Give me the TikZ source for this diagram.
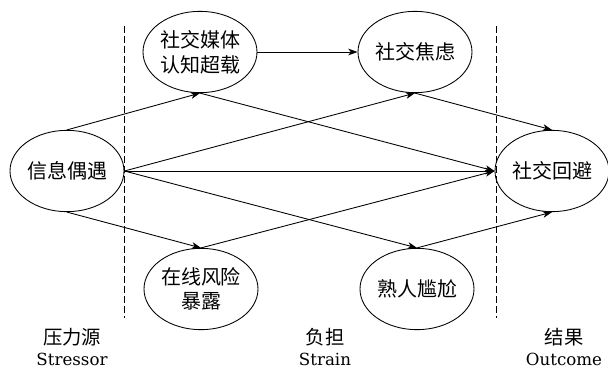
\documentclass[tikz,border=0pt]{standalone}
\usepackage{fontspec}
\setmainfont{DejaVu Serif}
\newfontfamily\cjk{Noto Sans CJK SC}
\usetikzlibrary{shapes.geometric,arrows.meta}
\begin{document}
\begin{tikzpicture}[>={Stealth[length=7pt,width=5pt,inset=2pt]}, x=0.75pt, y=-0.75pt, line width=0.65pt,
	fattore/.style={ellipse, draw, inner sep=0pt, minimum width=85.5pt, minimum height=61pt,
		align=center, font=\cjk\fontsize{15}{18.5}\selectfont},
	fase/.style={align=center, font=\fontsize{12.5}{16}\selectfont}]
	% Definizioni per le linee di separazione
	\def\ytop{26}
	\def\ybot{318}
	\useasboundingbox (0,0) rectangle (608,369);
	
	% --- Nodi ---
	\node[fattore] (incontro) at (67,171) {信息偶遇};
	\node[fattore] (sovraccarico) at (200,52) {社交媒体\\认知超载};
	\node[fattore] (ansia) at (415,52) {社交焦虑};
	\node[fattore] (rischio) at (201,289) {在线风险\\暴露};
	\node[fattore] (imbarazzo) at (417,289) {熟人尴尬};
	\node[fattore] (evitamento) at (552,171) {社交回避};
	
	% --- Separatori ---
	\draw[dash pattern=on 5pt off 2.5pt] (124,\ytop) -- (124,\ybot);
	\draw[dash pattern=on 5pt off 2.5pt] (496,\ytop) -- (496,\ybot);
	
	% --- Etichette ---
	\node[fase] (stressor) at (72,347) {{\cjk\fontsize{14.5}{16}\selectfont 压力源}\\Stressor};
	\node[fase] (strain) at (325,347) {{\cjk\fontsize{14.5}{16}\selectfont 负担}\\Strain};
	\node[fase] (outcome) at (564,347) {{\cjk\fontsize{14.5}{16}\selectfont 结果}\\Outcome};
	
	% --- Frecce ---
	\draw[->] (incontro.north) -- (sovraccarico.south);
	\draw[->] (incontro.east) -- (ansia.south);
	\draw[->] (incontro.east) -- (evitamento.west);
	\draw[->] (incontro.east) -- (imbarazzo.north);
	\draw[->] (incontro.south) -- (rischio.north);
	\draw[->] (sovraccarico.east) -- (ansia.west);
	\draw[->] (sovraccarico.south) -- (evitamento.west);
	\draw[->] (ansia.south) -- (evitamento.north);
	\draw[->] (rischio.north) -- (evitamento.west);
	\draw[->] (imbarazzo.north) -- (evitamento.south);
\end{tikzpicture}
\end{document}
